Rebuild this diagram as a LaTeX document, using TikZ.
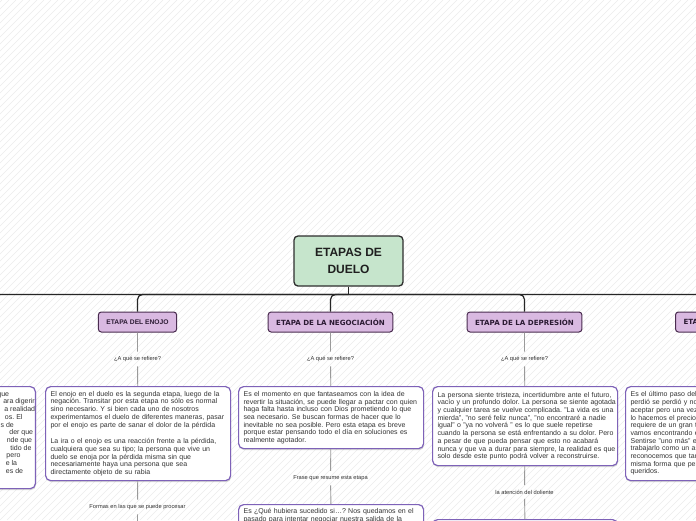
\documentclass[tikz,border=0pt]{standalone}
\usepackage{fontspec}
\setmainfont{Liberation Sans}
\newfontfamily\dvb{DejaVu Sans}
\usetikzlibrary{shadows}
\definecolor{rootfill}{HTML}{C6E5CC}
\definecolor{rootdraw}{HTML}{2E2E2E}
\definecolor{stagefill}{HTML}{D9B9E1}
\definecolor{stagedraw}{HTML}{4A2C50}
\definecolor{stagetext}{HTML}{2B1A33}
\definecolor{boxdraw}{HTML}{7E62B8}
\definecolor{txt}{HTML}{333333}
\definecolor{conn}{HTML}{9A9A9A}
\definecolor{hatch}{HTML}{ECECEC}
\frenchspacing
\begin{document}
\begin{tikzpicture}[x=1pt,y=-1pt,
  rootbox/.style={draw=rootdraw, fill=rootfill, line width=1.3, rounded corners=4,
    minimum width=109, minimum height=50, align=center,
    font=\fontsize{12}{16.5}\selectfont\bfseries, text=black!88},
  stage/.style={draw=stagedraw, fill=stagefill, line width=1, rounded corners=3,
    minimum height=20, inner xsep=8, text=stagetext},
  stagefontA/.style={font=\fontsize{6.7}{8}\selectfont\bfseries},
  stagefontB/.style={font=\dvb\fontsize{7.1}{8}\selectfont\bfseries},
  infobox/.style={draw=boxdraw, fill=white, line width=1.2, rounded corners=5,
    text width=175, inner xsep=5, inner ysep=4, align=left, anchor=north west,
    font=\frenchspacing\fontsize{7}{7.7}\selectfont, text=txt,
    drop shadow={shadow xshift=0.6pt, shadow yshift=-1.5pt, opacity=0.3}},
  frag/.style={anchor=base east, inner sep=0, font=\fontsize{7}{7.7}\selectfont, text=txt},
  tag/.style={font=\fontsize{5.7}{6.5}\selectfont, text=txt, inner xsep=2, inner ysep=4.5},
  trunk/.style={line width=1.2, draw=black!85},
  twig/.style={line width=0.9, draw=conn}]
\useasboundingbox (0,0) rectangle (696,520);
\clip (0,0) rectangle (696,520);
\fill[white] (0,0) rectangle (696,520);
\foreach \i in {-525,-518,...,700} \draw[hatch, line width=0.4] (\i,520) -- (\i+520,0);

% root
\node[rootbox] (root) at (348.5,261) {ETAPAS DE\\DUELO};
\coordinate (hub) at (348.5,294.5);

% stages
\coordinate (s0) at (-56,312);
\node[stage, stagefontA] (s1) at (137.5,322) {ETAPA DEL ENOJO};
\node[stage, stagefontB] (s2) at (330.5,322) {ETAPA DE LA NEGOCIACIÓN};
\node[stage, stagefontB] (s3) at (524.5,322) {ETAPA DE LA DEPRESIÓN};
\node[stage, stagefontB, anchor=west, text width=114, align=left] (s4) at (675,322) {ETA};

\draw[trunk] (root) -- (hub);
\draw[trunk, rounded corners=5] (hub) -- (s0 |- hub) -- (s0);
\draw[trunk, rounded corners=5] (hub) -- (s1.north |- hub) -- (s1.north);
\draw[trunk, rounded corners=5] (hub) -- (s2.north |- hub) -- (s2.north);
\draw[trunk, rounded corners=5] (hub) -- (s3.north |- hub) -- (s3.north);
\draw[trunk, rounded corners=5] (hub) -- (s4.north |- hub) -- (s4.north);

% question labels
\node[tag] (q1) at (137.5,359) {¿A qué se refiere?};
\node[tag] (q2) at (330.5,359) {¿A qué se refiere?};
\node[tag] (q3) at (524.5,359) {¿A qué se refiere?};

% left (cut) box
\node[infobox, anchor=north east, minimum height=102] (t0) at (36,386) {};
\node[frag] (f1) at (9.3,396.2) {que};
\node[frag] (f2) at (35,403.9) {ara digerir};
\node[frag] (f3) at (35.3,411.6) {a realidad};
\node[frag] (f4) at (22.7,419.3) {os. El};
\node[frag] (f5) at (14,427) {s de};
\node[frag] (f6) at (33.3,434.7) {der que};
\node[frag] (f7) at (32.3,442.4) {nde que};
\node[frag] (f8) at (31.7,450.1) {tido de};
\node[frag] (f9) at (20.7,457.8) {pero};
\node[frag] (f10) at (17.3,465.5) {e la};
\node[frag] (f11) at (23.3,473.2) {es de};

% enojo
\node[infobox, minimum height=94] (t1) at (45,386) {%
\mbox{El enojo en el duelo es la segunda etapa, luego de la}\\
\mbox{negación. Transitar por esta etapa no sólo es normal}\\
\mbox{sino necesario. Y si bien cada uno de nosotros}\\
\mbox{experimentamos el duelo de diferentes maneras, pasar}\\
\mbox{por el enojo es parte de sanar el dolor de la pérdida}\\[9pt]
\mbox{La ira o el enojo es una reacción frente a la pérdida,}\\
\mbox{cualquiera que sea su tipo; la persona que vive un}\\
\mbox{duelo se enoja por la pérdida misma sin que}\\
\mbox{necesariamente haya una persona que sea}\\
\mbox{directamente objeto de su rabia}};

% negociacion
\node[infobox, minimum height=62] (t2) at (238,386) {%
\mbox{Es el momento en que fantaseamos con la idea de}\\
\mbox{revertir la situación, se puede llegar a pactar con quien}\\
\mbox{haga falta hasta incluso con Dios prometiendo lo que}\\
\mbox{sea necesario. Se buscan formas de hacer que lo}\\
\mbox{inevitable no sea posible. Pero esta etapa es breve}\\
\mbox{porque estar pensando todo el día en soluciones es}\\
\mbox{realmente agotador.}};

% depresion
\node[infobox, minimum height=79] (t3) at (432,386) {%
\mbox{La persona siente tristeza, incertidumbre ante el futuro,}\\
\mbox{vacío y un profundo dolor. La persona se siente agotada}\\
\mbox{y cualquier tarea se vuelve complicada. "La vida es una}\\
\mbox{mierda", "no seré feliz nunca", "no encontraré a nadie}\\
\mbox{igual" o "ya no volverá " es lo que suele repetirse}\\
\mbox{cuando la persona se está enfrentando a su dolor. Pero}\\
\mbox{a pesar de que pueda pensar que esto no acabará}\\
\mbox{nunca y que va a durar para siempre, la realidad es que}\\
\mbox{solo desde este punto podrá volver a reconstruirse.}};

% aceptacion (cut)
\node[infobox, minimum height=94] (t4) at (625,386) {%
\mbox{Es el último paso del}\\
\mbox{perdió se perdió y no}\\
\mbox{aceptar pero una vez}\\
\mbox{lo hacemos el precio}\\
\mbox{requiere de un gran t}\\
\mbox{vamos encontrando e}\\
\mbox{Sentirse "uno más" es}\\
\mbox{trabajarlo como un as}\\
\mbox{reconocemos que tan}\\
\mbox{misma forma que per}\\
\mbox{queridos.}};

\draw[twig] (s1) -- (q1) -- (t1);
\draw[twig] (s2) -- (q2) -- (t2);
\draw[twig] (s3) -- (q3) -- (t3);

% second level
\node[tag] (p1) at (137.5,507) {Formas en las que se puede procesar};
\coordinate (e1) at (137.5,540);
\node[tag] (p2) at (330.5,478) {Frase que resume esta etapa};
\node[infobox] (t2b) at (238,504) {%
\mbox{Es ¿Qué hubiera sucedido si…? Nos quedamos en el}\\
\mbox{pasado para intentar negociar nuestra salida de la}};
\node[tag] (p3) at (524.5,492) {la atención del doliente};
\node[infobox, minimum height=30] (t3b) at (432,519) {};

\draw[twig] (t1) -- (p1) -- (e1);
\draw[twig] (t2) -- (p2) -- (t2b);
\draw[twig] (t3) -- (p3) -- (t3b);
\end{tikzpicture}
\end{document}
